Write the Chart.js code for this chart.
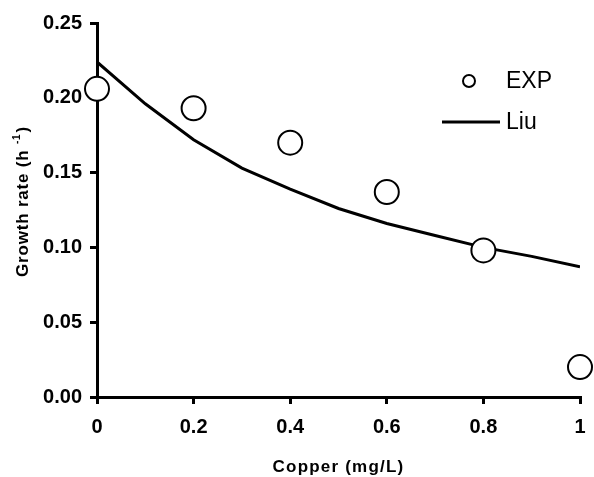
<!DOCTYPE html>
<html>
<head>
<meta charset="utf-8">
<script src="https://cdn.jsdelivr.net/npm/chart.js@4.4.0/dist/chart.umd.min.js"></script>
<style>
  html, body { margin: 0; padding: 0; background: #fff; }
  #wrap { width: 594px; height: 477px; }
</style>
</head>
<body>
<div id="wrap"><canvas id="mainChart"></canvas></div>
<script>
// measured points (EXP)
const expCopper = [0, 0.2, 0.4, 0.6, 0.8, 1.0];
const expRate = [0.206, 0.193, 0.170, 0.137, 0.098, 0.020];

// model curve (Liu)
const liuCopper = [0, 0.1, 0.2, 0.3, 0.4, 0.5, 0.6, 0.7, 0.8, 0.9, 1.0];
const liuRate = [0.224, 0.196, 0.172, 0.153, 0.139, 0.126, 0.116, 0.108, 0.100, 0.094, 0.087];

const xTicks = [0, 0.2, 0.4, 0.6, 0.8, 1];
const yTicks = [0, 0.05, 0.10, 0.15, 0.20, 0.25];

const FONT = "'Liberation Sans', Arial, sans-serif";

// axis titles and legend drawn by hand, legend sits inside the plot
const extras = {
    id: 'extras',
    afterDraw(chart) {
        const ctx = chart.ctx;
        const area = chart.chartArea;
        ctx.save();
        ctx.fillStyle = '#000';
        ctx.strokeStyle = '#000';

        // x title
        ctx.font = 'bold 17px ' + FONT;
        ctx.letterSpacing = '1.2px';
        ctx.textAlign = 'center';
        ctx.textBaseline = 'middle';
        ctx.fillText('Copper (mg/L)', (area.left + area.right) / 2, 467);

        // y title with superscript
        ctx.letterSpacing = '0.8px';
        ctx.translate(23, 202);
        ctx.rotate(-Math.PI / 2);
        const main = 'Growth rate (h ';
        const sup = '-1';
        const close = ')';
        ctx.font = 'bold 17px ' + FONT;
        const w1 = ctx.measureText(main).width;
        const w3 = ctx.measureText(close).width;
        ctx.font = 'bold 10px ' + FONT;
        const w2 = ctx.measureText(sup).width;
        let x = -(w1 + w2 + w3) / 2;
        ctx.textAlign = 'left';
        ctx.font = 'bold 17px ' + FONT;
        ctx.fillText(main, x, 0);
        ctx.font = 'bold 10px ' + FONT;
        ctx.fillText(sup, x + w1, -6);
        ctx.font = 'bold 17px ' + FONT;
        ctx.fillText(close, x + w1 + w2 + 1, 0);
        ctx.setTransform(1, 0, 0, 1, 0, 0);

        // legend
        ctx.letterSpacing = '0px';
        ctx.lineWidth = 2;
        ctx.fillStyle = '#fff';
        ctx.beginPath();
        ctx.arc(469, 81, 6, 0, Math.PI * 2);
        ctx.fill();
        ctx.stroke();
        ctx.lineWidth = 3;
        ctx.beginPath();
        ctx.moveTo(442, 122);
        ctx.lineTo(500, 122);
        ctx.stroke();
        ctx.fillStyle = '#000';
        ctx.font = '23px ' + FONT;
        ctx.textAlign = 'left';
        ctx.textBaseline = 'middle';
        ctx.fillText('EXP', 506, 82);
        ctx.fillText('Liu', 506, 123);
        ctx.restore();
    }
};

const ctxMain = document.getElementById('mainChart').getContext('2d');
window.mainChart = new Chart(ctxMain, {
    type: 'scatter',
    data: {
        datasets: [
            {
                label: 'EXP',
                data: expCopper.map((c, i) => ({ x: c, y: expRate[i] })),
                pointRadius: 12,
                pointBackgroundColor: '#fff',
                pointBorderColor: '#000',
                pointBorderWidth: 2,
                clip: false,
                order: 0
            },
            {
                label: 'Liu',
                type: 'line',
                data: liuCopper.map((c, i) => ({ x: c, y: liuRate[i] })),
                borderColor: '#000',
                borderWidth: 3,
                pointRadius: 0,
                fill: false,
                tension: 0,
                order: 1
            }
        ]
    },
    options: {
        responsive: true,
        maintainAspectRatio: false,
        animation: false,
        layout: { padding: { top: 23, right: 10, left: 0, bottom: 0 } },
        plugins: {
            legend: { display: false },
            tooltip: { enabled: false }
        },
        scales: {
            x: {
                type: 'linear',
                min: 0,
                max: 1,
                afterFit: (s) => { s.height = 80; s.paddingLeft = 0; s.paddingRight = 0; },
                afterBuildTicks: (s) => { s.ticks = xTicks.map(v => ({ value: v })); },
                border: { display: true, color: '#000', width: 3 },
                grid: { display: true, drawOnChartArea: false, drawTicks: true, tickLength: 7, color: '#000', lineWidth: 3 },
                ticks: {
                    color: '#000',
                    padding: 11,
                    maxRotation: 0,
                    font: { family: FONT, size: 20, weight: 'bold' },
                    callback: (v) => String(v)
                }
            },
            y: {
                type: 'linear',
                min: 0,
                max: 0.25,
                afterFit: (s) => { s.width = 97; s.paddingTop = 0; s.paddingBottom = 0; },
                afterBuildTicks: (s) => { s.ticks = yTicks.map(v => ({ value: v })); },
                border: { display: true, color: '#000', width: 3 },
                grid: { display: true, drawOnChartArea: false, drawTicks: true, tickLength: 7, color: '#000', lineWidth: 3 },
                ticks: {
                    color: '#000',
                    padding: 8,
                    font: { family: FONT, size: 20, weight: 'bold' },
                    callback: (v) => v.toFixed(2)
                }
            }
        }
    },
    plugins: [extras]
});
</script>
</body>
</html>
